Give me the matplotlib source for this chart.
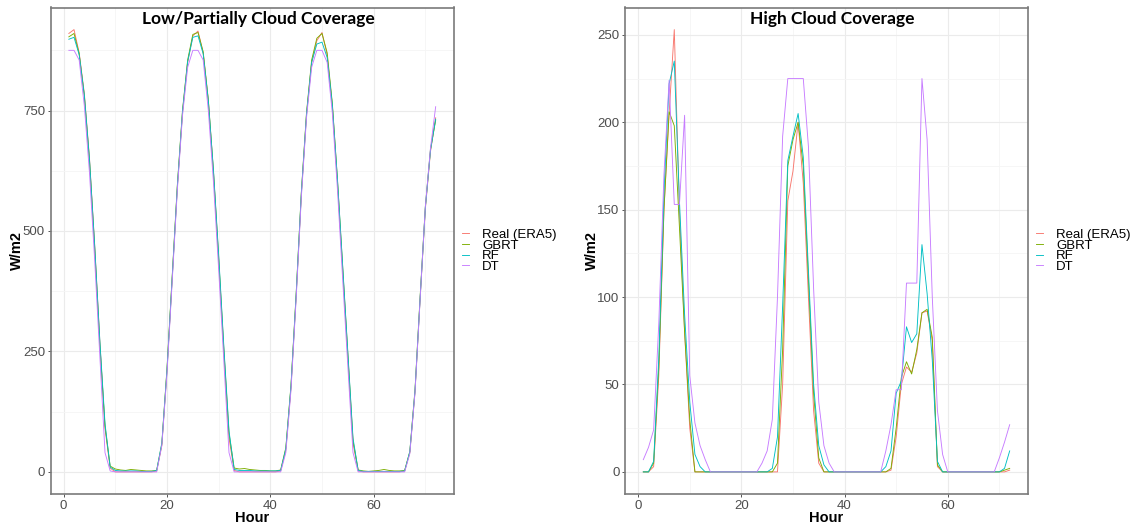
import numpy as np
import matplotlib
matplotlib.use("Agg")
import matplotlib.pyplot as plt
from matplotlib.ticker import MultipleLocator

# data (W/m2 per hour)
hours = np.arange(1, 73)

left_real = [910, 918, 870, 785, 650, 470, 270, 90, 8, 0,
             0, 0, 0, 0, 0, 0, 0, 2, 55, 210,
             400, 590, 745, 850, 905, 915, 870, 770, 620, 440,
             250, 70, 3, 0, 0, 0, 0, 0, 0, 0,
             0, 2, 45, 175, 365, 575, 740, 850, 895, 912,
             865, 760, 600, 420, 240, 60, 2, 0, 0, 0,
             0, 0, 0, 0, 0, 2, 40, 165, 360, 545,
             665, 735]
left_gbrt = [903, 910, 868, 780, 645, 465, 265, 95, 12, 6,
             4, 3, 5, 4, 3, 2, 2, 3, 58, 215,
             405, 595, 750, 855, 908, 912, 872, 772, 622, 445,
             255, 80, 8, 6, 7, 5, 4, 3, 3, 2,
             2, 4, 50, 180, 370, 580, 745, 855, 900, 910,
             870, 765, 605, 425, 245, 65, 4, 2, 1, 2,
             3, 5, 3, 2, 2, 3, 42, 170, 365, 550,
             670, 730]
left_rf = [898, 902, 866, 782, 648, 470, 272, 100, 10, 3,
           2, 2, 2, 2, 1, 1, 1, 3, 60, 212,
           402, 592, 748, 852, 902, 905, 868, 770, 625, 450,
           260, 85, 5, 3, 3, 3, 2, 2, 2, 2,
           2, 3, 48, 178, 368, 578, 742, 850, 888, 892,
           860, 762, 606, 428, 248, 70, 3, 1, 1, 1,
           1, 1, 1, 1, 1, 2, 42, 168, 362, 548,
           668, 732]
left_dt = [875, 875, 855, 760, 620, 440, 240, 40, 2, 0,
           0, 0, 0, 0, 0, 0, 0, 0, 55, 205,
           395, 585, 740, 840, 875, 875, 855, 750, 600, 420,
           230, 40, 0, 0, 0, 0, 0, 0, 0, 0,
           0, 0, 40, 170, 360, 570, 735, 840, 875, 875,
           850, 745, 585, 400, 220, 40, 0, 0, 0, 0,
           0, 0, 0, 0, 0, 0, 38, 165, 360, 550,
           672, 758]

right_real = [0, 0, 3, 55, 150, 205, 253, 150, 80, 25,
              0, 0, 0, 0, 0, 0, 0, 0, 0, 0,
              0, 0, 0, 0, 0, 0, 0, 50, 155, 172,
              200, 165, 100, 35, 5, 0, 0, 0, 0, 0,
              0, 0, 0, 0, 0, 0, 0, 0, 1, 20,
              50, 60, 57, 68, 91, 92, 75, 3, 0, 0,
              0, 0, 0, 0, 0, 0, 0, 0, 0, 0,
              0, 1]
right_gbrt = [0, 0, 5, 60, 150, 206, 198, 140, 80, 30,
              0, 0, 0, 0, 0, 0, 0, 0, 0, 0,
              0, 0, 0, 0, 0, 0, 5, 70, 175, 190,
              200, 175, 110, 45, 8, 0, 0, 0, 0, 0,
              0, 0, 0, 0, 0, 0, 0, 0, 2, 25,
              54, 63, 56, 70, 91, 93, 77, 4, 0, 0,
              0, 0, 0, 0, 0, 0, 0, 0, 0, 0,
              1, 2]
right_rf = [0, 0, 6, 65, 160, 222, 235, 155, 90, 40,
            10, 3, 0, 0, 0, 0, 0, 0, 0, 0,
            0, 0, 0, 0, 0, 2, 20, 95, 178, 192,
            205, 180, 115, 50, 15, 4, 0, 0, 0, 0,
            0, 0, 0, 0, 0, 0, 0, 3, 12, 45,
            52, 83, 74, 79, 130, 102, 64, 6, 0, 0,
            0, 0, 0, 0, 0, 0, 0, 0, 0, 0,
            2, 12]
right_dt = [7, 14, 24, 85, 170, 224, 153, 153, 204, 55,
            28, 15, 7, 0, 0, 0, 0, 0, 0, 0,
            0, 0, 0, 5, 12, 30, 100, 192, 225, 225,
            225, 225, 186, 105, 40, 15, 5, 0, 0, 0,
            0, 0, 0, 0, 0, 0, 0, 12, 27, 47,
            47, 108, 108, 108, 225, 190, 100, 35, 10, 0,
            0, 0, 0, 0, 0, 0, 0, 0, 0, 8,
            17, 27]

labels = ["Real (ERA5)", "GBRT", "RF", "DT"]
colors = ["#F8766D", "#7CAE00", "#00BFC4", "#C77CFF"]

fig = plt.figure(figsize=(11.42, 5.29), dpi=100)
W, H = 1142, 529


def panel(rect, series, title, yticks):
    ax = fig.add_axes([rect[0] / W, 1 - rect[3] / H, (rect[2] - rect[0]) / W, (rect[3] - rect[1]) / H])
    for s, lab, c in zip(series, labels, colors):
        ax.plot(hours, s, color=c, lw=0.65, label=lab)

    # ggplot style 5% expansion
    allv = np.concatenate([np.asarray(s) for s in series])
    ymin, ymax = allv.min(), allv.max()
    ax.set_ylim(ymin - 0.05 * (ymax - ymin), ymax + 0.05 * (ymax - ymin))
    ax.set_xlim(hours[0] - 0.05 * (hours[-1] - hours[0]), hours[-1] + 0.05 * (hours[-1] - hours[0]))

    ax.set_xticks([0, 20, 40, 60])
    ax.set_yticks(yticks)
    ax.xaxis.set_minor_locator(MultipleLocator(10))
    ax.yaxis.set_minor_locator(MultipleLocator((yticks[1] - yticks[0]) / 2))
    ax.grid(True, which="major", color="#ebebeb", lw=0.8)
    ax.grid(True, which="minor", color="#f5f5f5", lw=0.6)
    ax.set_axisbelow(True)
    ax.tick_params(which="major", length=2.5, width=0.7, color="#555555", pad=1.5,
                   labelsize=9.5, labelcolor="#4d4d4d")
    ax.tick_params(which="minor", length=0)
    for t in ax.get_xticklabels() + ax.get_yticklabels():
        t.set_fontfamily("Liberation Sans")
    for sp in ax.spines.values():
        sp.set_color("#7a7a7a")
        sp.set_linewidth(1.2)

    ax.text(0.515, 0.976, title, transform=ax.transAxes, ha="center", va="center",
            fontsize=12.5, fontweight="bold", family="Lato")
    ax.text(0.5, -0.049, "Hour", transform=ax.transAxes, ha="center", va="center",
            fontsize=10.5, fontweight="bold", family="Liberation Sans")
    ax.text(-0.083, 0.5, "W/m2", transform=ax.transAxes, ha="center", va="center",
            rotation=90, fontsize=10.5, fontweight="bold", family="Liberation Sans")

    ax.legend(loc="center left", bbox_to_anchor=(1.0, 0.5), frameon=False,
              prop={"family": "Liberation Sans", "size": 9.5},
              handlelength=0.55, handletextpad=1.0, labelspacing=-0.12,
              borderpad=0, borderaxespad=0.6)
    return ax


panel((50.5, 7.5, 454, 494), [left_real, left_gbrt, left_rf, left_dt],
      "Low/Partially Cloud Coverage", [0, 250, 500, 750])
panel((625, 7.5, 1028, 494), [right_real, right_gbrt, right_rf, right_dt],
      "High Cloud Coverage", [0, 50, 100, 150, 200, 250])

fig.savefig("out.png", dpi=100)
